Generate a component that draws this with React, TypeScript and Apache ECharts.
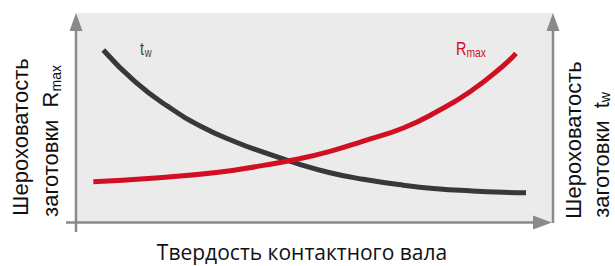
import React, { useEffect, useRef } from "react";
import * as echarts from "echarts";

// relative hardness (0..100) vs relative roughness (0..100)
const twPoints: [number, number][] = [
  [5.72, 82.3], [12.37, 67.13], [19.35, 55.17], [26.35, 45.6], [33.33, 38.42], [39.27, 33.4],
  [46.27, 28.09], [53.25, 23.59], [60.23, 20.43], [68.62, 17.6], [75.62, 15.9], [82.6, 14.9],
  [89.58, 14.21], [94.34, 14.02],
];
const rmaxPoints: [number, number][] = [
  [3.63, 19.28], [15.87, 20.91], [29.83, 23.78], [39.27, 27.1], [46.27, 30.0], [53.25, 33.8],
  [60.23, 38.7], [68.62, 45.0], [75.62, 52.77], [82.6, 62.34], [89.58, 74.78], [92.24, 80.72],
];
const xTitle = "Твердость контактного вала";
const leftTitle1 = "Шероховатость";
const leftTitle2 = "заготовки  R";
const leftSub = "max";
const rightTitle1 = "Шероховатость";
const rightTitle2 = "заготовки  t";
const rightSub = "w";
const twLabel = ["t", "w"];
const rmaxLabel = ["R", "max"];

export default function App() {
  const ref = useRef<HTMLDivElement>(null);
  useEffect(() => {
    document.body.style.margin = "0";
    const chart = echarts.init(ref.current!, null, { renderer: "svg" });
    const axisColor = "#8a8a8a";
    const titleFont = "Liberation Sans, Arial, sans-serif";
    const condFont = "Liberation Sans, Arial, sans-serif";
    const dark = "#383838";
    const red = "#d20f22";
    chart.setOption({
      animation: false,
      grid: { left: 76, right: 62, top: 13, bottom: 44, show: true, backgroundColor: "#ebebeb", borderWidth: 0 },
      xAxis: { type: "value", min: 0, max: 100, show: false },
      yAxis: { type: "value", min: 0, max: 100, show: false },
      series: [
        { type: "line", data: twPoints, smooth: 0.5, symbol: "none", lineStyle: { width: 5, color: dark, cap: "butt" } },
        { type: "line", data: rmaxPoints, smooth: 0.5, symbol: "none", lineStyle: { width: 5, color: red, cap: "butt" } },
      ],
      graphic: [
        // axes
        { type: "line", z: 100, shape: { x1: 76, y1: 232, x2: 76, y2: 25 }, style: { stroke: axisColor, lineWidth: 2.5 } },
        { type: "polygon", z: 100, shape: { points: [[76, 13], [69.5, 31], [82.5, 31]] }, style: { fill: axisColor } },
        { type: "line", z: 100, shape: { x1: 553, y1: 223, x2: 553, y2: 25 }, style: { stroke: axisColor, lineWidth: 2.5 } },
        { type: "polygon", z: 100, shape: { points: [[553, 13], [546.5, 31], [559.5, 31]] }, style: { fill: axisColor } },
        { type: "line", z: 100, shape: { x1: 66, y1: 222.5, x2: 540, y2: 222.5 }, style: { stroke: axisColor, lineWidth: 2.5 } },
        { type: "polygon", z: 100, shape: { points: [[552, 222.5], [533, 215.5], [533, 229.5]] }, style: { fill: axisColor } },
        // series labels
        {
          type: "text", z: 100, x: 140, y: 38, scaleX: 0.8,
          style: {
            text: "{a|" + twLabel[0] + "}{s|" + twLabel[1] + "}", fill: "#444",
            rich: {
              a: { fontFamily: condFont, fontSize: 18, fill: "#444", lineHeight: 18 },
              s: { fontFamily: condFont, fontSize: 12, fill: "#444", padding: [9, 0, 0, 1], lineHeight: 20 },
            },
          },
        },
        {
          type: "text", z: 100, x: 456, y: 38, scaleX: 0.8,
          style: {
            text: "{a|" + rmaxLabel[0] + "}{s|" + rmaxLabel[1] + "}", fill: red,
            rich: {
              a: { fontFamily: condFont, fontSize: 18, fill: red, lineHeight: 18 },
              s: { fontFamily: condFont, fontSize: 13, fill: red, padding: [9, 0, 0, 0], lineHeight: 20 },
            },
          },
        },
        // x title
        {
          type: "text", z: 100, x: 302, y: 252,
          style: { text: xTitle, fontFamily: "Open Sans, sans-serif", fontSize: 21, lineHeight: 22, fill: "#111", align: "center", verticalAlign: "middle" },
        },
        // left titles
        {
          type: "text", z: 100, x: 20, y: 137, rotation: Math.PI / 2,
          style: { text: leftTitle1, fontFamily: titleFont, fontSize: 22, fill: "#111", align: "center", verticalAlign: "middle" },
        },
        {
          type: "text", z: 100, x: 50, y: 141, rotation: Math.PI / 2,
          style: {
            text: "{a|" + leftTitle2 + "}{s|" + leftSub + "}", align: "center", verticalAlign: "middle",
            rich: {
              a: { fontFamily: titleFont, fontSize: 22, fill: "#111", lineHeight: 24 },
              s: { fontFamily: titleFont, fontSize: 14, fill: "#111", padding: [11, 0, 0, 0], lineHeight: 24 },
            },
          },
        },
        // right titles
        {
          type: "text", z: 100, x: 573, y: 140, rotation: Math.PI / 2,
          style: { text: rightTitle1, fontFamily: titleFont, fontSize: 22, fill: "#111", align: "center", verticalAlign: "middle" },
        },
        {
          type: "text", z: 100, x: 601, y: 155, rotation: Math.PI / 2,
          style: {
            text: "{a|" + rightTitle2 + "}{s|" + rightSub + "}", align: "center", verticalAlign: "middle",
            rich: {
              a: { fontFamily: titleFont, fontSize: 22, fill: "#111", lineHeight: 24 },
              s: { fontFamily: titleFont, fontSize: 14, fill: "#111", padding: [8, 0, 0, 0], lineHeight: 22 },
            },
          },
        },
      ],
    });
    return () => chart.dispose();
  }, []);
  return <div ref={ref} style={{ width: 615, height: 266 }} />;
}
